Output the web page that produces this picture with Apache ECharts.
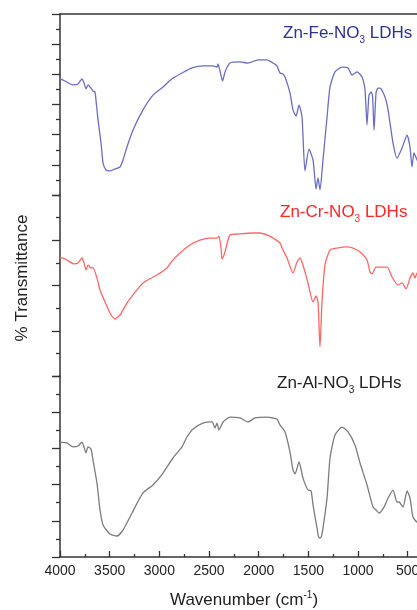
<!DOCTYPE html>
<html><head><meta charset="utf-8">
<script src="https://cdn.jsdelivr.net/npm/echarts@6/dist/echarts.min.js"></script>
<style>html,body{margin:0;padding:0;background:#fff}#c{width:417px;height:610px}</style>
</head><body><div id="c"></div>
<script>
const FONT = "'Liberation Sans', Arial, Helvetica, sans-serif";

// Zn-Fe-NO3 LDHs (wavenumber, relative transmittance within its panel)
const feWn = [4000,3950,3869,3819,3779,3758,3738,3718,3688,3668,3648,3638,3617,3587,3567,3537,3497,3446,3396,3366,3326,3265,3165,3064,2963,2863,2772,2671,2561,2460,2420,2410,2389,2364,2339,2289,2188,2108,2007,1916,1856,1816,1785,1755,1735,1685,1655,1624,1594,1564,1534,1494,1453,1423,1403,1383,1353,1312,1282,1232,1161,1101,1060,1010,960,930,910,890,869,854,839,819,799,779,729,698,648,608,557,507,477,457,437,406,400];
const feT  = [64.1,63.0,60.8,61.3,64.1,61.9,58.6,60.8,59.1,57.5,56.9,52.5,41.4,28.7,17.7,13.8,13.3,14.4,15.5,19.3,26.5,35.9,47.0,55.2,59.7,64.6,67.4,70.2,71.3,71.3,70.7,72.4,68.5,63.0,68.0,72.9,73.5,72.9,74.6,74.6,72.9,71.3,67.4,66.9,65.2,56.4,47.0,43.6,49.7,43.1,13.3,25.4,19.3,3.3,9.4,2.8,19.3,43.1,59.7,68.0,70.7,70.2,66.3,68.0,65.2,58.0,38.7,55.2,56.9,54.7,35.9,56.4,59.1,59.1,54.1,47.0,28.7,20.4,26.0,33.1,26.5,15.5,23.2,19.3,19.0];

// Zn-Cr-NO3 LDHs
const crWn = [4000,3930,3859,3819,3779,3758,3738,3718,3688,3668,3628,3597,3547,3497,3446,3396,3326,3265,3165,3024,2923,2873,2792,2691,2591,2490,2420,2400,2379,2369,2339,2289,2188,2057,1987,1886,1856,1785,1765,1715,1655,1614,1584,1534,1504,1453,1423,1403,1383,1363,1333,1282,1212,1111,1051,980,910,880,859,819,708,658,598,557,517,477,447,427,406,400];
const crT  = [65.7,64.1,61.9,62.4,65.2,62.4,58.6,61.3,59.7,59.7,54.1,47.5,40.9,34.8,31.5,33.7,40.3,44.8,51.4,55.8,59.7,63.5,68.0,72.4,75.1,76.2,76.2,77.3,70.7,64.6,68.5,77.9,78.5,79.0,79.0,77.3,76.2,73.5,70.7,65.2,56.9,63.0,65.2,57.5,51.4,40.9,44.2,40.9,16.0,40.9,61.3,69.6,70.7,71.3,70.7,68.5,64.1,57.5,56.4,60.2,60.2,54.7,50.3,51.4,48.1,54.1,56.9,54.1,56.9,55.8];

// Zn-Al-NO3 LDHs
const alWn = [4000,3930,3869,3819,3779,3758,3738,3718,3688,3668,3628,3597,3567,3497,3426,3366,3275,3165,3064,2963,2863,2772,2722,2661,2561,2470,2440,2420,2400,2359,2289,2188,2108,2037,1916,1856,1816,1785,1735,1685,1655,1634,1594,1554,1504,1473,1453,1413,1398,1383,1368,1353,1312,1282,1232,1161,1101,1031,980,910,849,819,789,739,698,648,608,588,547,507,477,447,406,400];
const alT  = [63.5,63.0,60.8,61.3,63.5,60.8,57.5,60.8,59.7,53.6,40.9,26.0,17.7,12.7,11.6,14.9,24.3,35.4,39.8,46.4,54.7,60.8,66.3,70.7,74.0,74.6,71.3,74.0,70.2,74.6,77.3,76.8,74.6,76.8,77.3,76.8,76.2,72.9,69.1,58.0,48.1,45.9,52.5,43.6,37.0,36.5,28.7,16.0,11.2,10.5,11.5,16.0,32.6,54.7,67.4,71.8,69.1,61.9,51.9,39.8,27.6,26.0,24.3,27.6,32.6,37.0,30.4,30.4,27.6,36.5,32.6,22.1,19.3,20.4];

const labelMain = ['Zn-Fe-NO', 'Zn-Cr-NO', 'Zn-Al-NO'];
const labelSub = '3';
const labelTail = ' LDHs';
const lineColors = ['#6a6ec2', '#ff6666', '#7c7c7c'];
const textColors = ['#2e3192', '#ff2626', '#222222'];
const yIntervals = [100/6, 25, 20];
const xName = 'Wavenumber (cm';
const xNameSup = '-1';
const yName = '% Transmittance';

const zip = (a, b) => a.map((v, i) => [v, b[i]]);
const seriesData = [zip(feWn, feT), zip(crWn, crT), zip(alWn, alT)];

const axisCol = '#333333';
const panelTops = [14, 195, 376];
const panelH = 181;

const chart = echarts.init(document.getElementById('c'), null, {renderer: 'canvas'});

// 4000 -> x=60, 500 -> x=407.7 ; so 0 lies at x≈457 (off-canvas)
const grids = panelTops.map(t => ({left: 60, width: 397.4, top: t, height: panelH,
  containLabel: false, outerBoundsMode: 'none'}));

const xAxes = [
  {gridIndex: 0, type: 'value', min: 0, max: 4000, interval: 500, inverse: true, position: 'top',
   axisLine: {show: true, onZero: false, lineStyle: {color: axisCol, width: 1.5}},
   axisTick: {show: false}, axisLabel: {show: false}, splitLine: {show: false}},
  {gridIndex: 1, type: 'value', min: 0, max: 4000, interval: 500, inverse: true, show: false,
   axisLine: {onZero: false}},
  {gridIndex: 2, type: 'value', min: 0, max: 4000, interval: 500, inverse: true, position: 'bottom',
   axisLine: {show: true, onZero: false, lineStyle: {color: axisCol, width: 1.5}},
   axisTick: {show: true, inside: true, length: 6, lineStyle: {color: axisCol, width: 1.3}},
   minorTick: {show: true, splitNumber: 2, length: 3, lineStyle: {color: axisCol, width: 1.3}},
   axisLabel: {show: true, fontSize: 14, color: '#222', margin: 7, fontFamily: FONT,
               hideOverlap: false, formatter: v => String(v)},
   splitLine: {show: false}, minorSplitLine: {show: false}}
];

const yAxes = yIntervals.map((iv, i) => ({
  gridIndex: i, type: 'value', min: 0, max: 100, interval: iv,
  axisLine: {show: true, onZero: false, lineStyle: {color: axisCol, width: 1.5}},
  axisTick: {show: true, inside: false, length: 8, lineStyle: {color: axisCol, width: 1.3}},
  minorTick: {show: true, splitNumber: 2, length: 4, lineStyle: {color: axisCol, width: 1.3}},
  axisLabel: {show: false}, splitLine: {show: false}, minorSplitLine: {show: false}
}));

const series = seriesData.map((d, i) => ({
  type: 'line', name: labelMain[i] + labelSub + labelTail,
  xAxisIndex: i, yAxisIndex: i, data: d,
  showSymbol: false, symbol: 'none', silent: true, smooth: 0.2,
  lineStyle: {color: lineColors[i], width: 1.3}
}));

const labelLeft = [283, 280, 277];
const labelCenterY = [33, 212, 383];
const titles = labelMain.map((m, i) => ({
  text: '{m|' + m + '}{s|' + labelSub + '}{m|' + labelTail + '}',
  left: labelLeft[i], top: labelCenterY[i] - 12, padding: 0,
  textStyle: {
    fontWeight: 'normal',
    rich: {
      m: {fontSize: 17, lineHeight: 24, fontWeight: 'normal', color: textColors[i], fontFamily: FONT},
      s: {fontSize: 10, lineHeight: 10, fontWeight: 'normal', verticalAlign: 'bottom', color: textColors[i], fontFamily: FONT}
    }
  }
}));
titles.push({
  text: '{m|' + xName + '}{s|' + xNameSup + '}{m|)}',
  left: 170, top: 590, padding: 0,
  textStyle: {
    fontWeight: 'normal',
    rich: {
      m: {fontSize: 17, lineHeight: 20, fontWeight: 'normal', color: '#222', fontFamily: FONT},
      s: {fontSize: 10, lineHeight: 14, fontWeight: 'normal', verticalAlign: 'top', color: '#222', fontFamily: FONT}
    }
  }
});

chart.setOption({
  backgroundColor: '#ffffff',
  animation: false,
  title: titles,
  grid: grids,
  xAxis: xAxes,
  yAxis: yAxes,
  series: series,
  graphic: [{
    type: 'text', x: 22, y: 278, rotation: Math.PI / 2,
    style: {text: yName, font: '17px ' + FONT, fill: '#222', textAlign: 'center', textVerticalAlign: 'middle'}
  }]
});
</script></body></html>
